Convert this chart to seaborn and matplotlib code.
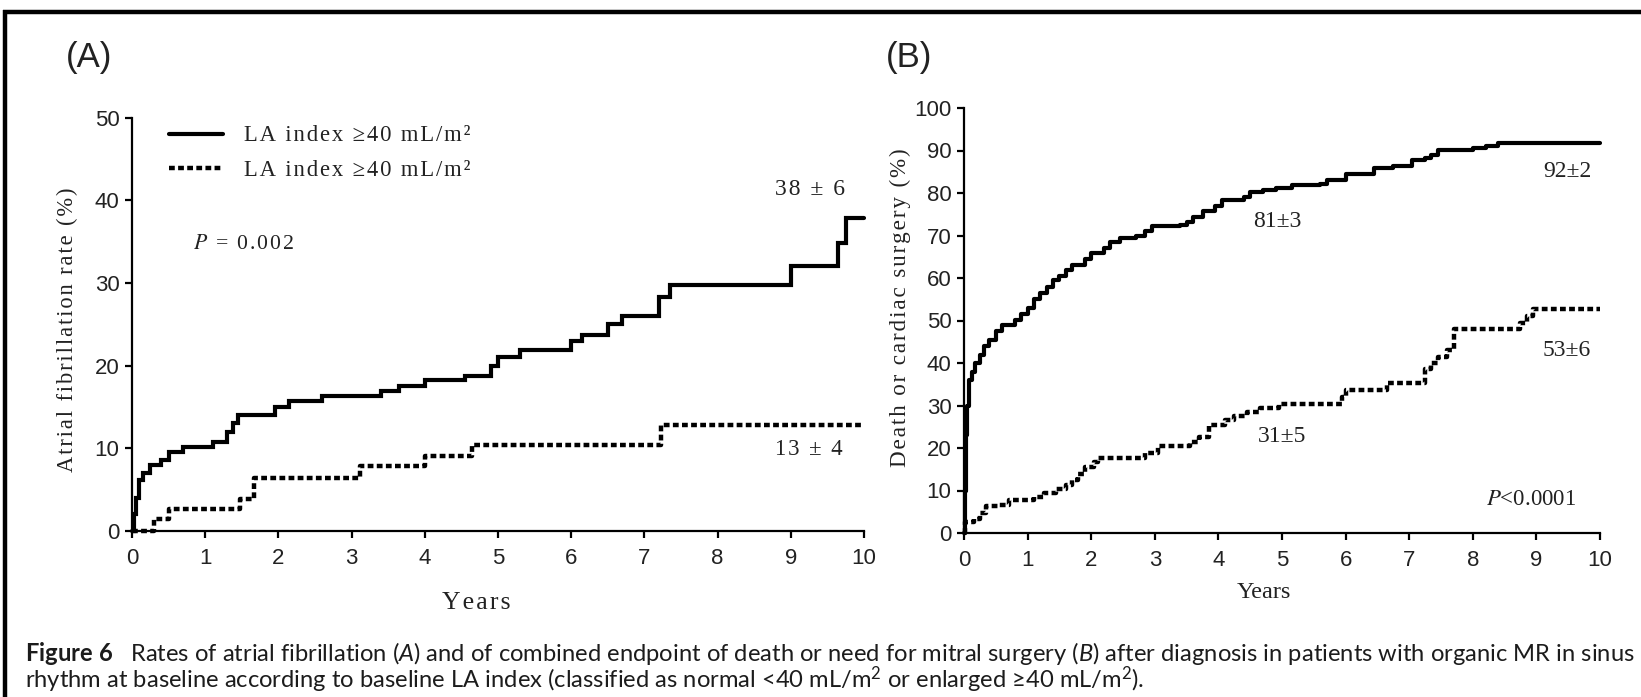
import matplotlib
matplotlib.use("Agg")
import matplotlib.pyplot as plt
import seaborn as sns
from matplotlib.lines import Line2D

# ---------------- data ----------------
# Panel A: atrial fibrillation, enlarged LA (solid) and normal LA (dotted)
a_large_years = [0, 0.03, 0.06, 0.1, 0.15, 0.25, 0.4, 0.5, 0.7, 1.1,
                 1.3, 1.38, 1.45, 1.95, 2.15, 2.6, 3.4, 3.65, 4.0, 4.55,
                 4.9, 5.0, 5.3, 6.0, 6.15, 6.5, 6.7, 7.2, 7.35, 9.0,
                 9.64, 9.75, 10.0]
a_large_rate = [0, 2, 4, 6.2, 7.0, 8.0, 8.6, 9.6, 10.2, 10.8,
                12.0, 13.0, 14.0, 15.0, 15.7, 16.3, 16.9, 17.5, 18.2, 18.8,
                20.0, 21.0, 21.9, 23.0, 23.7, 25.0, 26.0, 28.3, 29.8, 32.0,
                34.8, 37.9, 37.9]
a_small_years = [0, 0.3, 0.5, 1.48, 1.66, 3.12, 4.0, 4.65, 7.23, 10.0]
a_small_rate = [0, 1.4, 2.7, 3.9, 6.4, 7.8, 9.05, 10.4, 12.85, 12.85]

# Panel B: death or cardiac surgery
b_large_years = [0, 0.01, 0.03, 0.05, 0.08, 0.12, 0.18, 0.25, 0.32, 0.4,
                 0.5, 0.6, 0.8, 0.9, 1.0, 1.1, 1.2, 1.3, 1.4, 1.5,
                 1.6, 1.7, 1.9, 2.0, 2.2, 2.3, 2.45, 2.7, 2.85, 2.95,
                 3.4, 3.5, 3.6, 3.75, 3.95, 4.05, 4.4, 4.5, 4.7, 4.9,
                 5.15, 5.6, 5.7, 6.0, 6.45, 6.75, 7.05, 7.25, 7.35, 7.45,
                 8.0, 8.2, 8.4, 10.0]
b_large_rate = [0, 10, 23, 30, 36, 38, 40, 42, 44, 45.5,
                47.5, 49, 50.2, 51.5, 53, 55, 56.5, 58, 59.5, 60.5,
                62, 63, 64.5, 66, 67, 68.5, 69.5, 70, 71, 72.3,
                72.5, 73.2, 74.3, 75.8, 77, 78.3, 79, 80.2, 80.7, 81.2,
                81.8, 82.2, 83, 84.5, 85.8, 86.3, 87.8, 88.3, 89, 90.2,
                90.5, 91, 91.8, 91.8]
b_small_years = [0, 0.02, 0.15, 0.25, 0.35, 0.55, 0.7, 1.1, 1.25, 1.45,
                 1.6, 1.7, 1.8, 1.9, 2.05, 2.1, 2.85, 3.05, 3.55, 3.7,
                 3.85, 4.1, 4.25, 4.45, 4.65, 4.95, 5.95, 6.0, 6.65, 7.25,
                 7.35, 7.45, 7.6, 7.7, 8.75, 8.85, 8.95, 10.0]
b_small_rate = [0, 2.5, 3.3, 4.8, 6.3, 6.5, 7.8, 8.5, 9.3, 10.4,
                11.3, 12.5, 14.0, 15.5, 16.8, 17.7, 18.9, 20.5, 21.5, 22.5,
                25.5, 26.5, 27.5, 28.5, 29.3, 30.3, 32.0, 33.6, 35.3, 38.5,
                40.0, 41.5, 43.0, 48.0, 49.5, 51.0, 52.8, 52.8]

legend_labels = ["LA index \u226540 mL/m\u00b2", "LA index \u226540 mL/m\u00b2"]
a_end_labels = ["38 \u00b1 6", "13 \u00b1 4"]
b_labels = ["92\u00b12", "81\u00b13", "53\u00b16", "31\u00b15"]
x_ticks = list(range(0, 11))
a_y_ticks = list(range(0, 51, 10))
b_y_ticks = list(range(0, 101, 10))

caption_1 = (r"$\mathbf{Figure\ 6}$   Rates of atrial fibrillation ($\mathit{A}$) and of combined "
             r"endpoint of death or need for mitral surgery ($\mathit{B}$) after diagnosis in "
             r"patients with organic MR in sinus")
caption_2 = (r"rhythm at baseline according to baseline LA index (classified as normal "
             "<40 mL/m$^2$ or enlarged \u226540 mL/m$^2$).")

# ---------------- style ----------------
sns.set_theme(style="ticks")
plt.rcParams.update({
    "font.family": ["Liberation Sans", "DejaVu Sans"],
    "mathtext.fontset": "stix",
    "mathtext.rm": "Lato",
    "mathtext.it": "Lato:italic",
    "mathtext.bf": "Lato:bold",
    "axes.edgecolor": "black",
    "axes.linewidth": 1.6,
    "xtick.color": "black",
    "ytick.color": "black",
    "xtick.major.width": 1.6,
    "ytick.major.width": 1.6,
    "xtick.major.size": 5,
    "ytick.major.size": 5,
    "xtick.major.pad": 7,
    "ytick.major.pad": 4,
    "xtick.labelsize": 16,
    "ytick.labelsize": 16,
    "xtick.labelcolor": "#222222",
    "ytick.labelcolor": "#222222",
})
SERIF = ["Liberation Serif", "DejaVu Serif"]
TXT = "#222222"
GAP = "\u200a"


def spaced(s):
    """Letter-spaced version of a plain string."""
    return GAP.join(s)


W, H = 1641, 697
fig = plt.figure(figsize=(W / 100, H / 100), dpi=100)
fig.patch.set_facecolor("white")


def fx(px):
    return px / W


def fy(py):
    return 1 - py / H


ax_a = fig.add_axes([fx(132), fy(531), (864 - 132) / W, (531 - 117.5) / H])
ax_b = fig.add_axes([fx(964), fy(533), (1600 - 964) / W, (533 - 108) / H])

SOLID_LW = 3.0
DOT_LW = 3.2
DOTS = (0, (1.3, 0.75))

for ax in (ax_a, ax_b):
    ax.set_facecolor("white")
    sns.despine(ax=ax)
    ax.set_xlim(0, 10)
    ax.set_xticks(x_ticks)
    ax.set_xlabel("")
    ax.set_ylabel("")

# panel A curves
sns.lineplot(x=a_large_years, y=a_large_rate, ax=ax_a, color="black", lw=SOLID_LW,
             drawstyle="steps-post", estimator=None, sort=False, clip_on=False,
             solid_joinstyle="miter", label=legend_labels[0])
sns.lineplot(x=a_small_years, y=a_small_rate, ax=ax_a, color="black", lw=DOT_LW,
             linestyle=DOTS, drawstyle="steps-post", estimator=None, sort=False,
             clip_on=False, dash_capstyle="butt", label=legend_labels[1])
ax_a.set_ylim(0, 50)
ax_a.set_yticks(a_y_ticks)

LEG_SIZE = 15
leg = ax_a.legend(handles=ax_a.lines[:2], labels=[spaced(s) for s in legend_labels],
                  loc="upper left", bbox_to_anchor=(fx(169), fy(125)),
                  bbox_transform=fig.transFigure, frameon=False, borderpad=0,
                  borderaxespad=0, handlelength=2.6, handletextpad=1.0, labelspacing=0.65,
                  prop={"family": SERIF, "size": LEG_SIZE})
for t in leg.get_texts():
    t.set_color(TXT)

fit_targets = []  # (text artist, target length in pixels)

t = ax_a.text(9.26, 41.3, spaced(a_end_labels[0]), ha="center", va="center",
              fontsize=16, family=SERIF, color=TXT)
fit_targets.append((t, 70))
t = ax_a.text(9.25, 9.8, spaced(a_end_labels[1]), ha="center", va="center",
              fontsize=16, family=SERIF, color=TXT)
fit_targets.append((t, 68))
t = ax_a.text(0.84, 34.6, "$P$" + GAP + spaced(" = 0.002"), ha="left", va="center",
              fontsize=16, family=SERIF, color=TXT)
fit_targets.append((t, 101))

# panel B curves
sns.lineplot(x=b_large_years, y=b_large_rate, ax=ax_b, color="black", lw=SOLID_LW,
             drawstyle="steps-post", estimator=None, sort=False, clip_on=False,
             legend=False)
sns.lineplot(x=b_small_years, y=b_small_rate, ax=ax_b, color="black", lw=DOT_LW,
             linestyle=DOTS, drawstyle="steps-post", estimator=None, sort=False,
             clip_on=False, dash_capstyle="butt", legend=False)
ax_b.set_ylim(0, 100)
ax_b.set_yticks(b_y_ticks)

for (x, y), s in zip([(9.48, 85), (4.92, 73.4), (9.48, 43), (5.0, 22.8)], b_labels):
    ax_b.text(x, y, s, ha="center", va="center", fontsize=17, family=SERIF, color=TXT)
ax_b.text(8.91, 7.9, "$P$<0.0001", ha="center", va="center", fontsize=16.5,
          family=SERIF, color=TXT)

# axis titles
t = fig.text(fx(67), fy(330), spaced("Atrial fibrillation rate (%)"), rotation=90,
             ha="center", va="center", fontsize=17, family=SERIF, color=TXT)
fit_targets.append((t, 285))
t = fig.text(fx(476), fy(603), spaced("Years"), ha="center", va="center", fontsize=17,
             family=SERIF, color=TXT)
fit_targets.append((t, 69))
t = fig.text(fx(900), fy(308), spaced("Death or cardiac surgery (%)"), rotation=90,
             ha="center", va="center", fontsize=17, family=SERIF, color=TXT)
fit_targets.append((t, 322))
fig.text(fx(1264), fy(592), "Years", ha="center", va="center", fontsize=17.5,
         family=SERIF, color=TXT)

# panel letters
fig.text(fx(66), fy(57), "(A)", ha="left", va="center", fontsize=25, color=TXT)
fig.text(fx(886), fy(58), "(B)", ha="left", va="center", fontsize=25, color=TXT)

# caption
cap_kw = dict(ha="left", va="baseline", family=["Lato", "DejaVu Sans"],
              math_fontfamily="custom", color="#1c1c1c")
c1 = fig.text(fx(25), fy(661), caption_1, fontsize=12, **cap_kw)
c2 = fig.text(fx(25), fy(688), caption_2, fontsize=12, **cap_kw)
fit_targets.append((c1, 1635 - 25))

# size the texts to their measured lengths
fig.canvas.draw()
r = fig.canvas.get_renderer()
for art, target in fit_targets:
    bb = art.get_window_extent(r)
    length = max(bb.width, bb.height)
    new = art.get_fontsize() * target / length
    art.set_fontsize(new)
    if art is c1:
        c2.set_fontsize(new)
lt = leg.get_texts()[0]
lw_now = lt.get_window_extent(r).width
for t in leg.get_texts():
    t.set_fontsize(LEG_SIZE * 228 / lw_now)

# frame along the top and left edges
fig.add_artist(Line2D([fx(3), 1.0], [fy(12), fy(12)], transform=fig.transFigure,
                      color="black", lw=3.2, solid_capstyle="butt"))
fig.add_artist(Line2D([fx(5), fx(5)], [fy(10), 0.0], transform=fig.transFigure,
                      color="black", lw=3.2, solid_capstyle="butt"))

fig.savefig("out.png", dpi=100, facecolor="white")
